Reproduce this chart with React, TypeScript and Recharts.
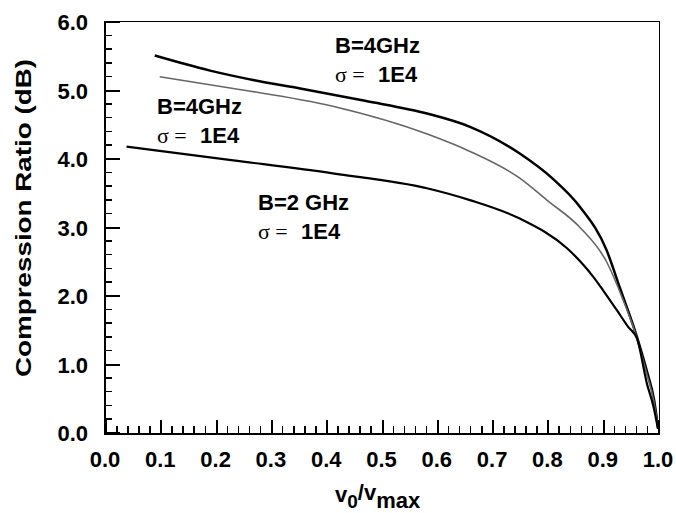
import { LineChart, Line, XAxis, YAxis } from 'recharts';

// B=4GHz, upper curve (thick black)
const topX = [0.09, 0.19, 0.27, 0.353, 0.47, 0.584, 0.66, 0.75, 0.81, 0.859, 0.907, 0.931, 0.962, 0.98, 0.993, 1.0];
const topY = [5.51, 5.29, 5.15, 5.03, 4.85, 4.66, 4.47, 4.08, 3.71, 3.3, 2.67, 2.12, 1.4, 0.9, 0.48, 0.08];

// B=4GHz, middle curve (grey)
const midX = [0.099, 0.232, 0.412, 0.584, 0.66, 0.75, 0.799, 0.859, 0.907, 0.937, 0.962, 0.98, 0.992, 1.0];
const midY = [5.2, 5.03, 4.77, 4.36, 4.11, 3.72, 3.4, 3.0, 2.5, 1.94, 1.38, 0.85, 0.48, 0.08];

// B=2 GHz, lower curve
const lowX = [0.039, 0.232, 0.412, 0.584, 0.66, 0.75, 0.835, 0.86, 0.883, 0.901, 0.925, 0.946, 0.962, 0.98, 0.992, 1.0];
const lowY = [4.18, 3.98, 3.79, 3.57, 3.4, 3.13, 2.7, 2.5, 2.28, 2.08, 1.8, 1.55, 1.38, 0.72, 0.38, 0.06];

const xMajor = [0, 0.1, 0.2, 0.3, 0.4, 0.5, 0.6, 0.7, 0.8, 0.9, 1.0];
const xMinor = [
  0.02, 0.04, 0.06, 0.08, 0.12, 0.14, 0.16, 0.18, 0.22, 0.24, 0.26, 0.28,
  0.32, 0.34, 0.36, 0.38, 0.42, 0.44, 0.46, 0.48, 0.52, 0.54, 0.56, 0.58,
  0.62, 0.64, 0.66, 0.68, 0.72, 0.74, 0.76, 0.78, 0.82, 0.84, 0.86, 0.88,
  0.92, 0.94, 0.96, 0.98,
];
const yMajor = [0, 1, 2, 3, 4, 5, 6];
const yMinor = [0.2, 0.4, 0.6, 0.8, 1.2, 1.4, 1.6, 1.8, 2.2, 2.4, 2.6, 2.8, 3.2, 3.4, 3.6, 3.8, 4.2, 4.4, 4.6, 4.8, 5.2, 5.4, 5.6, 5.8];

const toPoints = (xs: number[], ys: number[]) => xs.map((x, i) => ({ x, y: ys[i] }));

const sans = "'Liberation Sans', Arial, sans-serif";
const serif = "'Liberation Serif', 'Times New Roman', serif";

// chart geometry (margin + axis sizes), shared by the chart and the frame/tick overlay
const W = 676;
const H = 513;
const margin = { top: 22, right: 18, bottom: 40, left: 45 };
const yAxisW = 60;
const xAxisH = 40;
const plot = {
  left: margin.left + yAxisW,
  top: margin.top,
  right: W - margin.right,
  bottom: H - margin.bottom - xAxisH,
};
const plotW = plot.right - plot.left;
const plotH = plot.bottom - plot.top;
const px = (v: number) => v * plotW;
const py = (v: number) => plotH - (v / 6) * plotH;

function XLabel({ x, y, payload }: any) {
  return (
    <text x={x} y={y + 34} textAnchor="middle" fontFamily={sans} fontWeight="bold" fontSize={22} fill="#000">
      {Number(payload.value).toFixed(1)}
    </text>
  );
}

function YLabel({ x, y, payload }: any) {
  return (
    <text x={x - 17} y={y + 8} textAnchor="end" fontFamily={sans} fontWeight="bold" fontSize={22} fill="#000">
      {Number(payload.value).toFixed(1)}
    </text>
  );
}

function Note({ x, y, band }: { x: number; y: number; band: string }) {
  return (
    <g fill="#000">
      <text x={x} y={y} fontFamily={sans} fontWeight="bold" fontSize={22}>{band}</text>
      <text x={x} y={y + 29} fontFamily={serif} fontSize={22}>σ =</text>
      <text x={x + 43} y={y + 29} fontFamily={sans} fontWeight="bold" fontSize={22}>1E4</text>
    </g>
  );
}

const tickDiv = (key: string, style: React.CSSProperties) => (
  <div key={key} style={{ position: 'absolute', background: '#000', ...style }} />
);

export default function App() {
  return (
    <div style={{ position: 'absolute', left: 0, top: 0, width: W, height: H, background: '#fff' }}>
      <LineChart width={W} height={H} margin={margin}>
        <XAxis
          type="number"
          dataKey="x"
          domain={[0, 1]}
          ticks={xMajor}
          interval={0}
          allowDataOverflow
          height={xAxisH}
          tickSize={0}
          tickMargin={0}
          tickLine={false}
          axisLine={false}
          tick={<XLabel />}
        />
        <YAxis
          type="number"
          domain={[0, 6]}
          ticks={yMajor}
          interval={0}
          allowDataOverflow
          width={yAxisW}
          tickSize={0}
          tickMargin={0}
          tickLine={false}
          axisLine={false}
          tick={<YLabel />}
        />
        <Line data={toPoints(topX, topY)} dataKey="y" type="monotone" stroke="#000" strokeWidth={2.5} dot={false} isAnimationActive={false} />
        <Line data={toPoints(midX, midY)} dataKey="y" type="monotone" stroke="#666" strokeWidth={1.6} dot={false} isAnimationActive={false} />
        <Line data={toPoints(lowX, lowY)} dataKey="y" type="monotone" stroke="#000" strokeWidth={2.2} dot={false} isAnimationActive={false} />
      </LineChart>
      {/* frame and inward ticks */}
      <div
        style={{
          position: 'absolute',
          left: plot.left - 1,
          top: plot.top - 1,
          width: plotW,
          height: plotH,
          borderTop: '1.5px solid #000',
          borderRight: '1.5px solid #000',
          borderLeft: '2px solid #000',
          borderBottom: '2px solid #000',
          boxSizing: 'content-box',
          pointerEvents: 'none',
        }}
      >
        {xMajor.map(v => tickDiv(`xM${v}`, { left: px(v) - 1, bottom: 0, width: 2, height: 13 }))}
        {xMinor.map(v => tickDiv(`xm${v}`, { left: px(v) - 1, bottom: 0, width: 1.5, height: 7 }))}
        {yMajor.map(v => tickDiv(`yM${v}`, { left: 0, top: py(v) - 1, width: 14, height: 2 }))}
        {yMinor.map(v => tickDiv(`ym${v}`, { left: 0, top: py(v) - 1, width: 6, height: 1.5 }))}
      </div>
      <svg width={W} height={H} style={{ position: 'absolute', left: 0, top: 0, pointerEvents: 'none' }}>
        <Note x={335} y={53} band="B=4GHz" />
        <Note x={157} y={114} band="B=4GHz" />
        <Note x={258} y={210} band="B=2 GHz" />
        <text
          transform="translate(31,218) rotate(-90)"
          textAnchor="middle"
          fontFamily={sans}
          fontWeight="bold"
          fontSize={22}
          textLength={318}
          lengthAdjust="spacingAndGlyphs"
          fill="#000"
        >
          Compression Ratio (dB)
        </text>
        <text x={335} y={502} fontFamily={sans} fontWeight="bold" fontSize={22} fill="#000">
          v<tspan dy={6} fontSize={19}>0</tspan>
          <tspan dy={-8}>/v</tspan>
          <tspan dy={8}>max</tspan>
        </text>
      </svg>
    </div>
  );
}
